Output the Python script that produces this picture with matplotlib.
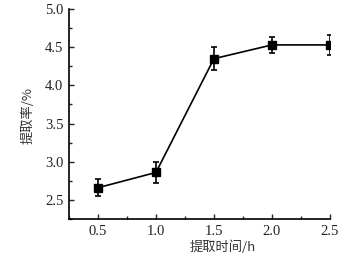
import matplotlib
matplotlib.use('Agg')
import matplotlib.pyplot as plt
from matplotlib.ticker import MultipleLocator

# extraction time (h) vs extraction rate (%)
hours = [0.5, 1.0, 1.5, 2.0, 2.5]
rate = [2.66, 2.86, 4.35, 4.53, 4.53]
err = [0.11, 0.14, 0.15, 0.11, 0.13]

plt.rcParams['font.family'] = ['Liberation Serif', 'Noto Sans CJK SC']

fig = plt.figure(figsize=(3.61, 2.58), dpi=100)
ax = fig.add_axes([0.191, 0.151, 0.723, 0.814])

ax.errorbar(hours, rate, yerr=err, color='black', marker='s', markersize=6,
            linewidth=1.2, elinewidth=1.2, capsize=2.5, capthick=1.2)

ax.set_xlim(0.25, 2.5)
ax.set_ylim(2.25, 5.0)
ax.xaxis.set_minor_locator(MultipleLocator(0.25))
ax.yaxis.set_minor_locator(MultipleLocator(0.25))
ax.set_xticks([0.5, 1.0, 1.5, 2.0, 2.5])
ax.set_xticklabels(['0.5', '1.0', '1.5', '2.0', '2.5'])
ax.set_yticks([2.5, 3.0, 3.5, 4.0, 4.5, 5.0])
ax.set_yticklabels(['2.5', '3.0', '3.5', '4.0', '4.5', '5.0'])

ax.spines['top'].set_visible(False)
ax.spines['right'].set_visible(False)
for s in ['left', 'bottom']:
    ax.spines[s].set_linewidth(1.2)
ax.tick_params(which='both', direction='in', width=1.0, labelsize=10.5, pad=4, colors='#222222')
ax.tick_params(which='major', length=3.5)
ax.tick_params(which='minor', length=2)

fig.text(0.077, 0.554, '提取率/%', rotation=90, ha='center', va='center',
         fontsize=9.5, color='#333333', family=['Noto Sans CJK SC', 'Liberation Serif'])
fig.text(0.616, 0.043, '提取时间/h', ha='center', va='center',
         fontsize=9.5, color='#333333', family=['Noto Sans CJK SC', 'Liberation Serif'])

fig.savefig('out.png', dpi=100)
